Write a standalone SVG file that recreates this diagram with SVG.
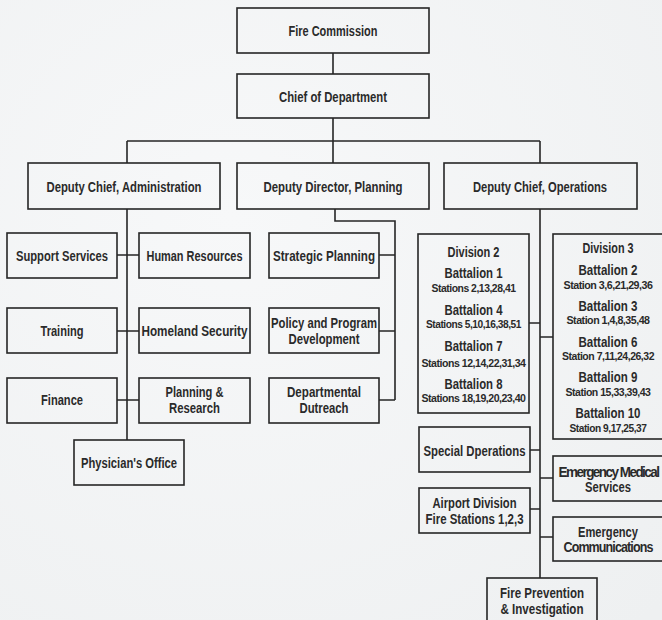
<svg xmlns="http://www.w3.org/2000/svg" width="662" height="620" viewBox="0 0 662 620">
<defs>
<radialGradient id="bg" cx="0.35" cy="0.35" r="0.9">
<stop offset="0" stop-color="#f7f8f9"/>
<stop offset="1" stop-color="#eef0f1"/>
</radialGradient>
</defs>
<style>
.box{fill:none;stroke:#262626;stroke-width:1.6}
.ln{fill:none;stroke:#262626;stroke-width:1.6}
text{font-family:"Liberation Sans Narrow","Liberation Sans",Arial,sans-serif;font-weight:bold;fill:#2a2a2a;text-anchor:middle}
.t{font-size:14px}
.b{font-size:15px}
.s{font-size:11px;letter-spacing:-0.5px}
.n{letter-spacing:-1px}
.m{letter-spacing:-1.6px}
</style>
<rect x="0" y="0" width="662" height="620" fill="url(#bg)"/>
<g id="connectors">
<path class="ln" d="M333,53V74M333,118V163M127,141H540M127,141V163M540,141V163"/>
<path class="ln" d="M127,209V440M117,255H139M117,331H139M117,400H139"/>
<path class="ln" d="M335,209V221H395V400M379,255H395M379,331H395M379,400H395"/>
<path class="ln" d="M540,209V578M529,323H540M540,337H553M530,450H540M540,478H553M530,509H540M540,537H553"/>
</g>
<g id="fire-commission"><rect class="box" x="237" y="8" width="192" height="45"/><text class="t" x="333" y="36" textLength="89" lengthAdjust="spacingAndGlyphs">Fire Commission</text></g>
<g id="chief"><rect class="box" x="237" y="74" width="192" height="44"/><text class="t" x="333" y="102" textLength="108" lengthAdjust="spacingAndGlyphs">Chief of Department</text></g>
<g id="dep-admin"><rect class="box" x="28" y="163" width="192" height="46"/><text class="t" x="124" y="192" textLength="155" lengthAdjust="spacingAndGlyphs">Deputy Chief, Administration</text></g>
<g id="dep-planning"><rect class="box" x="237" y="163" width="192" height="46"/><text class="t" x="333" y="192" textLength="139" lengthAdjust="spacingAndGlyphs">Deputy Director, Planning</text></g>
<g id="dep-ops"><rect class="box" x="444" y="163" width="193" height="46"/><text class="t" x="540" y="192" textLength="134" lengthAdjust="spacingAndGlyphs">Deputy Chief, Operations</text></g>
<g id="support"><rect class="box" x="7" y="233" width="110" height="45"/><text class="t" x="62" y="261" textLength="92" lengthAdjust="spacingAndGlyphs">Support Services</text></g>
<g id="hr"><rect class="box" x="139" y="233" width="111" height="45"/><text class="t" x="194.5" y="261" textLength="96" lengthAdjust="spacingAndGlyphs">Human Resources</text></g>
<g id="training"><rect class="box" x="7" y="308" width="110" height="45"/><text class="t" x="62" y="336" textLength="43" lengthAdjust="spacingAndGlyphs">Training</text></g>
<g id="homeland"><rect class="box" x="139" y="308" width="111" height="45"/><text class="t" x="194.5" y="336" textLength="106" lengthAdjust="spacingAndGlyphs">Homeland Security</text></g>
<g id="finance"><rect class="box" x="7" y="378" width="110" height="45"/><text class="t" x="62" y="405" textLength="42" lengthAdjust="spacingAndGlyphs">Finance</text></g>
<g id="planning-research"><rect class="box" x="139" y="378" width="111" height="45"/><text class="t" x="194.5" y="397" textLength="58" lengthAdjust="spacingAndGlyphs">Planning &amp;</text><text class="t" x="194.5" y="413" textLength="51" lengthAdjust="spacingAndGlyphs">Research</text></g>
<g id="physician"><rect class="box" x="74" y="440" width="110" height="45"/><text class="t" x="129" y="468" textLength="96" lengthAdjust="spacingAndGlyphs">Physician's Office</text></g>
<g id="strategic"><rect class="box" x="269" y="233" width="110" height="45"/><text class="t" x="324" y="261" textLength="102" lengthAdjust="spacingAndGlyphs">Strategic Planning</text></g>
<g id="policy"><rect class="box" x="269" y="308" width="110" height="45"/><text class="t" x="324" y="328" textLength="106" lengthAdjust="spacingAndGlyphs">Policy and Program</text><text class="t" x="324" y="344" textLength="71" lengthAdjust="spacingAndGlyphs">Development</text></g>
<g id="outreach"><rect class="box" x="269" y="378" width="110" height="45"/><text class="t" x="324" y="397" textLength="74" lengthAdjust="spacingAndGlyphs">Departmental</text><text class="t" x="324" y="413" textLength="49" lengthAdjust="spacingAndGlyphs">Dutreach</text></g>
<g id="division2"><rect class="box" x="418" y="234" width="111" height="179"/>
<text class="t" x="473.5" y="257" textLength="52" lengthAdjust="spacingAndGlyphs">Division 2</text>
<text class="b" x="473.5" y="278" textLength="58" lengthAdjust="spacingAndGlyphs">Battalion 1</text>
<text class="s" x="473.5" y="292" textLength="84" lengthAdjust="spacingAndGlyphs">Stations 2,13,28,41</text>
<text class="b" x="473.5" y="315" textLength="58" lengthAdjust="spacingAndGlyphs">Battalion 4</text>
<text class="s" x="473.5" y="328" textLength="95" lengthAdjust="spacingAndGlyphs">Stations 5,10,16,38,51</text>
<text class="b" x="473.5" y="351" textLength="58" lengthAdjust="spacingAndGlyphs">Battalion 7</text>
<text class="s" x="473.5" y="367" textLength="104" lengthAdjust="spacingAndGlyphs">Stations 12,14,22,31,34</text>
<text class="b" x="473.5" y="389" textLength="58" lengthAdjust="spacingAndGlyphs">Battalion 8</text>
<text class="s" x="473.5" y="402" textLength="104" lengthAdjust="spacingAndGlyphs">Stations 18,19,20,23,40</text>
</g>
<g id="division3"><rect class="box" x="553" y="234" width="110" height="205"/>
<text class="t" x="608" y="253" textLength="51" lengthAdjust="spacingAndGlyphs">Division 3</text>
<text class="b" x="608" y="275" textLength="59" lengthAdjust="spacingAndGlyphs">Battalion 2</text>
<text class="s" x="608" y="289" textLength="89" lengthAdjust="spacingAndGlyphs">Station 3,6,21,29,36</text>
<text class="b" x="608" y="311" textLength="59" lengthAdjust="spacingAndGlyphs">Battalion 3</text>
<text class="s" x="608" y="324" textLength="83" lengthAdjust="spacingAndGlyphs">Station 1,4,8,35,48</text>
<text class="b" x="608" y="347" textLength="59" lengthAdjust="spacingAndGlyphs">Battalion 6</text>
<text class="s" x="608" y="360" textLength="92" lengthAdjust="spacingAndGlyphs">Station 7,11,24,26,32</text>
<text class="b" x="608" y="382" textLength="59" lengthAdjust="spacingAndGlyphs">Battalion 9</text>
<text class="s" x="608" y="396" textLength="85" lengthAdjust="spacingAndGlyphs">Station 15,33,39,43</text>
<text class="b" x="608" y="418" textLength="65" lengthAdjust="spacingAndGlyphs">Battalion 10</text>
<text class="s" x="608" y="432" textLength="77" lengthAdjust="spacingAndGlyphs">Station 9,17,25,37</text>
</g>
<g id="special-ops"><rect class="box" x="419" y="427" width="111" height="45"/><text class="t" x="474.5" y="456" textLength="102" lengthAdjust="spacingAndGlyphs">Special Dperations</text></g>
<g id="ems"><rect class="box" x="553" y="456" width="110" height="45"/><text class="t m" x="608.5" y="477" textLength="100" lengthAdjust="spacingAndGlyphs">Emergency Medical</text><text class="t" x="608" y="492" textLength="46" lengthAdjust="spacingAndGlyphs">Services</text></g>
<g id="airport"><rect class="box" x="419" y="488" width="111" height="45"/><text class="t" x="474.5" y="508" textLength="84" lengthAdjust="spacingAndGlyphs">Airport Division</text><text class="t" x="474.5" y="524" textLength="98" lengthAdjust="spacingAndGlyphs">Fire Stations 1,2,3</text></g>
<g id="emergency-comm"><rect class="box" x="553" y="517" width="110" height="44"/><text class="t" x="608" y="537" textLength="60" lengthAdjust="spacingAndGlyphs">Emergency</text><text class="t n" x="608" y="552" textLength="89" lengthAdjust="spacingAndGlyphs">Communications</text></g>
<g id="fire-prevention"><rect class="box" x="487" y="578" width="110" height="48"/><text class="t" x="542" y="598" textLength="84" lengthAdjust="spacingAndGlyphs">Fire Prevention</text><text class="t" x="542" y="614" textLength="83" lengthAdjust="spacingAndGlyphs">&amp; Investigation</text></g>
</svg>
